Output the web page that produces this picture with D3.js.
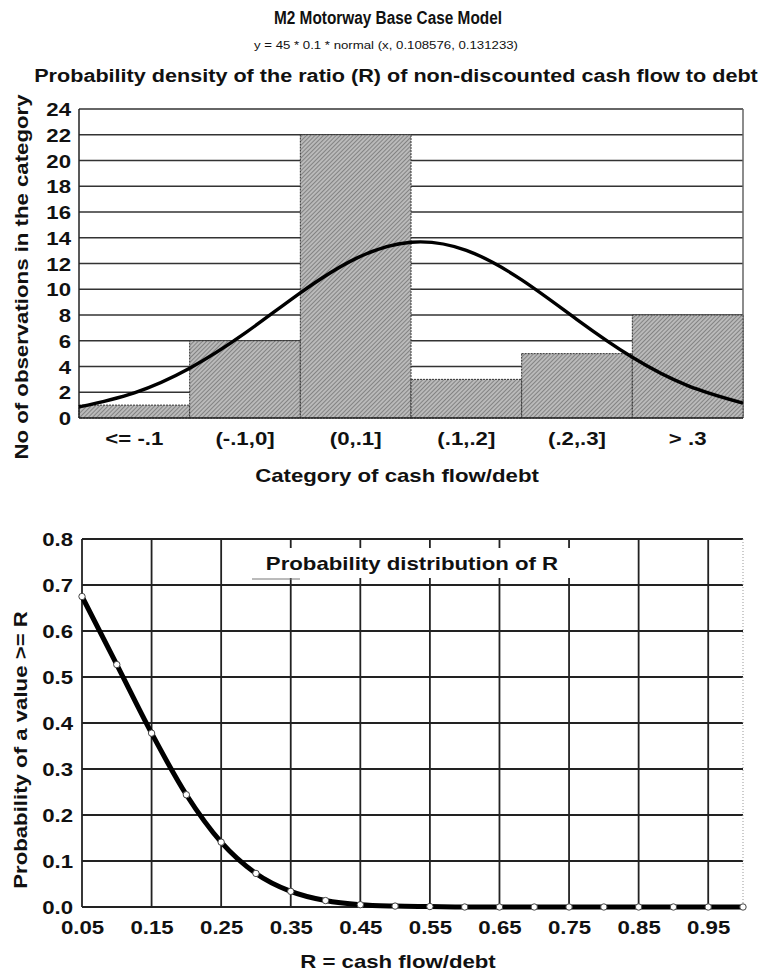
<!DOCTYPE html>
<html><head><meta charset="utf-8">
<script src="https://cdn.jsdelivr.net/npm/d3@7"></script>
<style>
html,body{margin:0;padding:0;background:#fff;}
svg text{font-family:"Liberation Sans",Arial,sans-serif;fill:#111;}
</style></head>
<body><svg id="c" width="771" height="972"></svg>
<script>
// ---- Data ----
const categories = ["<= -.1", "(-.1,0]", "(0,.1]", "(.1,.2]", "(.2,.3]", "> .3"];
const counts = [1, 6, 22, 3, 5, 8];
const yTicksTop = [0,2,4,6,8,10,12,14,16,18,20,22,24];
// fitted normal curve y = 45*0.1*normal(x,0.108576,0.131233), values read at x steps
const curveX = [-0.2,-0.15,-0.1,-0.05,0,0.05,0.1,0.15,0.2,0.25,0.3,0.35,0.4];
const curveY = [0.86,1.96,3.87,6.59,9.72,12.38,13.65,13.02,10.73,7.65,4.72,2.52,1.16];
// cumulative probability of a value >= R
const rValues = [0.05,0.10,0.15,0.20,0.25,0.30,0.35,0.40,0.45,0.50,0.55,0.60,0.65,0.70,0.75,0.80,0.85,0.90,0.95,1.00];
const probValues = [0.675,0.527,0.378,0.244,0.141,0.073,0.034,0.014,0.005,0.002,0.001,0,0,0,0,0,0,0,0,0];
const xTicksBottom = [0.05,0.15,0.25,0.35,0.45,0.55,0.65,0.75,0.85,0.95];
const yTicksBottom = [0,0.1,0.2,0.3,0.4,0.5,0.6,0.7,0.8];

const svg = d3.select("#c");
const STRETCH = 1.2;
function stretch(sel, factor){ sel.each(function(){ const w=this.getComputedTextLength(); this.setAttribute("textLength", w*factor); this.setAttribute("lengthAdjust","spacingAndGlyphs"); }); }
function fitTo(sel, width){ sel.attr("textLength", width).attr("lengthAdjust","spacingAndGlyphs"); }

// pattern
const defs = svg.append("defs");
const pat = defs.append("pattern").attr("id","hatch").attr("patternUnits","userSpaceOnUse")
  .attr("width",3).attr("height",3).attr("patternTransform","rotate(45)");
pat.append("rect").attr("width",3).attr("height",3).attr("fill","#bababa");
pat.append("line").attr("x1",0).attr("y1",0).attr("x2",0).attr("y2",3).attr("stroke","#5e5e5e").attr("stroke-width",1.2);

// ---- Titles ----
fitTo(svg.append("text").attr("x",388).attr("y",24).attr("text-anchor","middle")
  .attr("font-size",18).attr("font-weight","bold").text("M2 Motorway Base Case Model"), 228);
fitTo(svg.append("text").attr("x",386).attr("y",49).attr("text-anchor","middle")
  .attr("font-size",11.5).text("y = 45 * 0.1 * normal (x, 0.108576, 0.131233)"), 264);
stretch(svg.append("text").attr("x",396).attr("y",82).attr("text-anchor","middle")
  .attr("font-size",18).attr("font-weight","bold").text("Probability density of the ratio (R) of non-discounted cash flow to debt"), STRETCH);

// ---- Top chart ----
const xb = d3.scaleBand().domain(categories).range([79,743]).padding(0);
const xc = d3.scaleLinear().domain([-0.2,0.4]).range([79,743]);
const yt = d3.scaleLinear().domain([0,24]).range([418,109]);
const gTop = svg.append("g");

gTop.selectAll("line.hg").data(yTicksTop.filter(d=>d>0)).join("line")
  .attr("x1",79).attr("x2",743).attr("y1",d=>yt(d)).attr("y2",d=>yt(d))
  .attr("stroke","#333").attr("stroke-width",1.5);
gTop.append("line").attr("x1",743).attr("x2",743).attr("y1",yt(24)).attr("y2",yt(0)).attr("stroke","#666").attr("stroke-width",1.5);

gTop.selectAll("rect.bar").data(counts).join("rect")
  .attr("x",(d,i)=>xb(categories[i])).attr("width",xb.bandwidth())
  .attr("y",d=>yt(d)).attr("height",d=>yt(0)-yt(d))
  .attr("fill","url(#hatch)").attr("stroke","#333").attr("stroke-width",1).attr("stroke-dasharray","2,1");

gTop.append("line").attr("x1",79).attr("x2",79).attr("y1",yt(24)).attr("y2",yt(0)).attr("stroke","#222").attr("stroke-width",1.5);
gTop.append("line").attr("x1",79).attr("x2",743).attr("y1",yt(0)).attr("y2",yt(0)).attr("stroke","#222").attr("stroke-width",1.5);

const curveLine = d3.line().x((d,i)=>xc(curveX[i])).y(d=>yt(d)).curve(d3.curveNatural);
gTop.append("path").attr("d",curveLine(curveY)).attr("fill","none").attr("stroke","#000").attr("stroke-width",3.4);

const yAxT = gTop.append("g").attr("transform","translate(71,0)")
  .call(d3.axisLeft(yt).tickValues(yTicksTop).tickSize(0).tickPadding(0));
yAxT.select(".domain").remove();
yAxT.selectAll("text").attr("font-size",18.5).attr("font-weight","bold").attr("fill","#111").attr("font-family",null).attr("dy","0.36em");
const xAxT = gTop.append("g").attr("transform","translate(0,445)")
  .call(d3.axisBottom(xb).tickSize(0).tickPadding(0));
xAxT.select(".domain").remove();
xAxT.selectAll("text").attr("font-size",18.5).attr("font-weight","bold").attr("fill","#111").attr("font-family",null).attr("dy",0);
stretch(yAxT.selectAll("text"), STRETCH);
stretch(xAxT.selectAll("text"), STRETCH);

stretch(svg.append("text").attr("x",397).attr("y",482).attr("text-anchor","middle")
  .attr("font-size",18.5).attr("font-weight","bold").text("Category of cash flow/debt"), STRETCH);
stretch(svg.append("text").attr("transform","translate(28,277) rotate(-90)").attr("text-anchor","middle")
  .attr("font-size",18.5).attr("font-weight","bold").text("No of observations in the category"), STRETCH);

// ---- Bottom chart ----
const xr = d3.scaleLinear().domain([0.05,1.0]).range([82,743]);
const yp = d3.scaleLinear().domain([0,0.8]).range([907,539]);
const gBot = svg.append("g");

gBot.selectAll("line.vg").data(xTicksBottom.filter(d=>d>0.05)).join("line")
  .attr("x1",d=>xr(d)).attr("x2",d=>xr(d)).attr("y1",yp(0.8)).attr("y2",yp(0))
  .attr("stroke","#222").attr("stroke-width",1.8);
gBot.selectAll("line.hg").data(yTicksBottom.filter(d=>d>0)).join("line")
  .attr("x1",82).attr("x2",743).attr("y1",d=>yp(d)).attr("y2",d=>yp(d))
  .attr("stroke","#222").attr("stroke-width",1.8);
gBot.append("line").attr("x1",743).attr("x2",743).attr("y1",yp(0.8)).attr("y2",yp(0))
  .attr("stroke","#999").attr("stroke-width",1).attr("stroke-dasharray","1,2");
gBot.append("line").attr("x1",82).attr("x2",82).attr("y1",yp(0.8)).attr("y2",yp(0)).attr("stroke","#222").attr("stroke-width",1.8);
gBot.append("line").attr("x1",82).attr("x2",743).attr("y1",yp(0)).attr("y2",yp(0)).attr("stroke","#222").attr("stroke-width",1.8);

// inner title box
gBot.append("rect").attr("x",250).attr("y",548).attr("width",340).attr("height",30).attr("fill","#fff");
gBot.append("line").attr("x1",252).attr("x2",300).attr("y1",579).attr("y2",579).attr("stroke","#777").attr("stroke-width",1);
stretch(gBot.append("text").attr("x",412).attr("y",570).attr("text-anchor","middle")
  .attr("font-size",18.5).attr("font-weight","bold").text("Probability distribution of R"), STRETCH);

const pline = d3.line().x((d,i)=>xr(rValues[i])).y(d=>yp(d)).curve(d3.curveMonotoneX);
gBot.append("path").attr("d",pline(probValues)).attr("fill","none").attr("stroke","#000").attr("stroke-width",5).attr("stroke-linejoin","round");
gBot.selectAll("circle.pt").data(probValues).join("circle")
  .attr("cx",(d,i)=>xr(rValues[i])).attr("cy",d=>yp(d)).attr("r",3.2)
  .attr("fill","#fff").attr("stroke","#444").attr("stroke-width",1);

const yAxB = gBot.append("g").attr("transform","translate(73,0)")
  .call(d3.axisLeft(yp).tickValues(yTicksBottom).tickFormat(d3.format(".1f")).tickSize(0).tickPadding(0));
yAxB.select(".domain").remove();
yAxB.selectAll("text").attr("font-size",18.5).attr("font-weight","bold").attr("fill","#111").attr("font-family",null).attr("dy","0.36em");
const xAxB = gBot.append("g").attr("transform","translate(0,934)")
  .call(d3.axisBottom(xr).tickValues(xTicksBottom).tickFormat(d3.format(".2f")).tickSize(0).tickPadding(0));
xAxB.select(".domain").remove();
xAxB.selectAll("text").attr("font-size",18.5).attr("font-weight","bold").attr("fill","#111").attr("font-family",null).attr("dy",0);
stretch(yAxB.selectAll("text"), STRETCH);
stretch(xAxB.selectAll("text"), STRETCH);

stretch(svg.append("text").attr("x",398).attr("y",968).attr("text-anchor","middle")
  .attr("font-size",18.5).attr("font-weight","bold").text("R = cash flow/debt"), STRETCH);
stretch(svg.append("text").attr("transform","translate(27,750) rotate(-90)").attr("text-anchor","middle")
  .attr("font-size",18.5).attr("font-weight","bold").text("Probability of a value >= R"), STRETCH);
</script></body></html>
